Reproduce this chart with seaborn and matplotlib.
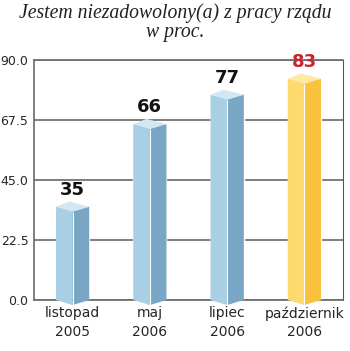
import matplotlib
matplotlib.use("Agg")
import matplotlib.pyplot as plt
from matplotlib.patches import Polygon
import seaborn as sns
import pandas as pd

# Survey data: share of respondents dissatisfied with the government
periods = ["listopad\n2005", "maj\n2006", "lipiec\n2006", "październik\n2006"]
values = [35, 66, 77, 83]
y_ticks = [0.0, 22.5, 45.0, 67.5, 90.0]
title = "Jestem niezadowolony(a) z pracy rządu\nw proc."

# Face colours for the prism bars: (front, side, top)
blue = ("#a9cfe5", "#78a6c4", "#d3e7f2")
gold = ("#fed96e", "#f9c23e", "#fee9a6")
faces = [blue, blue, blue, gold]
label_colors = ["#111111", "#111111", "#111111", "#c9252c"]

df = pd.DataFrame({"period": periods, "value": values})

sns.set_style("white")
plt.rcParams["font.family"] = ["DejaVu Sans"]

fig = plt.figure(figsize=(3.5, 3.51), dpi=100)
ax = fig.add_axes([34 / 350, 1 - 300 / 351, 309 / 350, 240 / 351])

sns.barplot(data=df, x="period", y="value", hue="period",
            palette=[f[0] for f in faces], width=0.43, legend=False,
            ax=ax, zorder=2, saturation=1)

ax.set_ylim(0, 90)
ax.set_xlim(-0.5, 3.5)
ax.set_yticks(y_ticks)
ax.set_yticklabels([f"{t:.1f}" for t in y_ticks], fontsize=9)
ax.set_xlabel("")
ax.set_ylabel("")
ax.tick_params(axis="x", labelsize=10, pad=4.5, length=0)
ax.tick_params(axis="y", pad=4, length=0)
for lab in ax.get_xticklabels():
    lab.set_linespacing(1.4)

ax.yaxis.grid(True, color="#5a5a5a", linewidth=1.1, zorder=0)
ax.set_axisbelow(True)
for side in ["left", "top", "bottom"]:
    ax.spines[side].set_color("#6a6a6a")
    ax.spines[side].set_linewidth(1.2)
ax.spines["right"].set_color("#555555")
ax.spines["right"].set_linewidth(0.8)

# Turn each flat bar into a prism: split front/side faces, add a top rhombus
d = 1.9
for bar, val, (front, side, top), lc in zip(ax.patches, values, faces, label_colors):
    x0 = bar.get_x()
    w = bar.get_width()
    x1 = x0 + w
    xc = x0 + w * 0.5
    xb = x0 + w * 0.4
    v = bar.get_height()
    left_face = Polygon([(x0, 0), (x0, v), (xc, v - d), (xc, -d)],
                        closed=True, facecolor=front, edgecolor="none",
                        zorder=3, clip_on=False)
    right_face = Polygon([(xc, -d), (xc, v - d), (x1, v), (x1, 0)],
                         closed=True, facecolor=side, edgecolor="none",
                         zorder=3, clip_on=False)
    top_face = Polygon([(x0, v), (xb, v + d), (x1, v), (xc, v - d)],
                       closed=True, facecolor=top, edgecolor="none",
                       zorder=4, clip_on=False)
    for p in (left_face, right_face, top_face):
        ax.add_patch(p)
    ax.plot([xc, xc], [-d, v - d], color="white", linewidth=0.8,
            zorder=5, clip_on=False, solid_capstyle="butt")
    ax.annotate(f"{val}", xy=(xc, v), xytext=(0, 8.5),
                textcoords="offset points", ha="center", va="baseline",
                fontsize=13, fontweight="bold", color=lc,
                annotation_clip=False, zorder=6)

fig.text(0.5, 1 - 3 / 351, title, ha="center", va="top",
         fontsize=14.2, fontstyle="italic", family=["Liberation Serif"],
         color="#222222", linespacing=1.02)

fig.savefig("out.png", dpi=100)
